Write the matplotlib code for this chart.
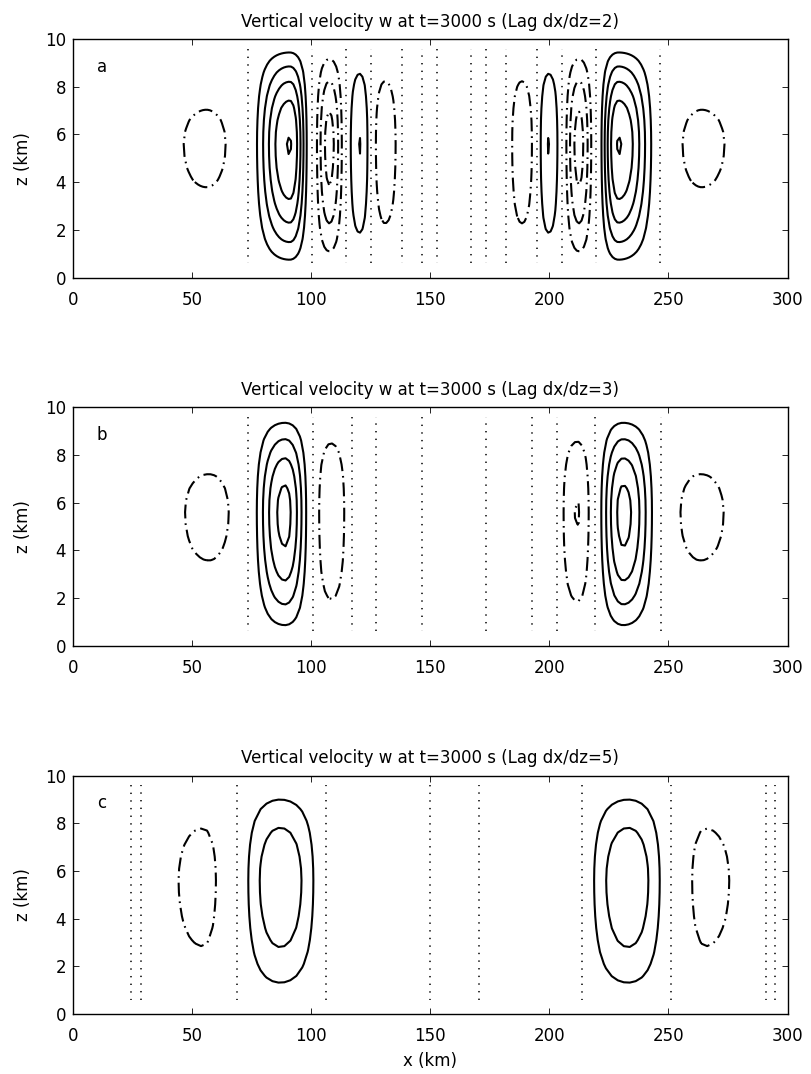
import numpy as np
import matplotlib
matplotlib.use("Agg")
import matplotlib.pyplot as plt

plt.rcParams['font.family'] = ['DejaVu Sans']
plt.rcParams['lines.scale_dashes'] = False

# ---------------- data ----------------
titles = ["Vertical velocity w at t=3000 s (Lag dx/dz=2)",
          "Vertical velocity w at t=3000 s (Lag dx/dz=3)",
          "Vertical velocity w at t=3000 s (Lag dx/dz=5)"]
panel_labels = ["a", "b", "c"]
dz = 0.5
dx_ratio = [2, 3, 5]

# horizontal structure: lobe boundaries (km), signed amplitude (contour units),
# peak position (km) and peakedness of each lobe
breaks_a = [-10, 36, 73, 100.3, 115, 125.1, 137.8, 146.5, 152.8, 167.2, 173.5, 182.2, 194.9, 205, 219.7, 247, 284, 310]
amps_a   = [-0.05, -1.15, 5.05, -3.4, 2.02, -1.7, 0.3, -0.3, 0.3, -0.3, 0.3, -1.7, 2.02, -3.4, 5.05, -1.15, -0.05]
peaks_a  = [13, 56, 91, 107.6, 120.3, 131, 142, 149.6, 160, 170.3, 178, 188.5, 199.7, 212.4, 229, 264, 297]
power_a  = [1, 0.45, 1.6, 1.5, 0.9, 0.8, 1, 1, 1, 1, 1, 0.8, 0.9, 1.5, 1.6, 0.45, 1]

breaks_b = [-10, 38, 73, 101, 116.5, 127, 146.5, 173.5, 193, 203.5, 218.6, 247.3, 282, 310]
amps_b   = [-0.05, -1.19, 4.36, -1.95, 0.3, -0.3, 0.3, -0.3, 0.3, -2.04, 4.36, -1.19, -0.05]
peaks_b  = [14, 57, 89, 108.3, 121.7, 136.7, 160, 183.2, 198.2, 211.7, 231, 263.5, 296]
power_b  = [1, 0.45, 1.6, 0.9, 1, 1, 1, 1, 1, 0.9, 1.6, 0.45, 1]

breaks_c = [-10, 25.6, 28.4, 68.8, 105.9, 150, 170.3, 213.7, 251.1, 291.2, 294, 310]
amps_c   = [-0.05, 0.05, -1.41, 2.85, -0.4, 0.3, -0.4, 2.85, -1.41, 0.05, -0.05]
peaks_c  = [8, 27, 54.5, 87, 128, 160, 192, 233, 265.5, 292.6, 302]
power_c  = [1, 1, 1.7, 1.15, 1, 1, 1, 1.15, 1.7, 1, 1]

# vertical structure: bottom zero, level of maximum, top zero (km)
z_bottom, z_peak, z_top = 0.04, 5.6, 10.0
z_first, z_last = 0.6, 9.6

neg_levels = [-4, -3, -2, -1]
zero_levels = [0]
pos_levels = [1, 2, 3, 4, 5]

panels = [(breaks_a, amps_a, peaks_a, power_a),
          (breaks_b, amps_b, peaks_b, power_b),
          (breaks_c, amps_c, peaks_c, power_c)]


def horizontal(x, breaks, amps, peaks, powers):
    f = np.zeros_like(x)
    for a, b, A, c, q in zip(breaks[:-1], breaks[1:], amps, peaks, powers):
        m = (x >= a) & (x < b)
        xm = x[m]
        t = np.where(xm < c, 0.5 * (xm - a) / (c - a), 0.5 + 0.5 * (xm - c) / (b - c))
        f[m] = A * np.sin(np.pi * t) ** q
    return f


def vertical(z):
    t = np.where(z < z_peak, 0.5 * (z - z_bottom) / (z_peak - z_bottom),
                 0.5 + 0.5 * (z - z_peak) / (z_top - z_peak))
    return np.sin(np.pi * t)


fig = plt.figure(figsize=(8.12, 10.74), dpi=100)
bottoms = [0.7416, 0.3988, 0.0559]
for i, (br, am, pk, pw) in enumerate(panels):
    ax = fig.add_axes([0.0899, bottoms[i], 0.880, 0.222])
    ddx = dx_ratio[i] * dz
    x = np.arange(ddx / 2, 300, ddx)
    z = np.arange(z_first, z_last + 1e-6, dz)
    X, Z = np.meshgrid(x, z)
    W = horizontal(X, br, am, pk, pw) * vertical(Z)

    ax.contour(X, Z, W, levels=neg_levels, colors='k', linewidths=1.5,
               linestyles=[(0, (10, 3.5, 1.2, 3.5))] * len(neg_levels))
    ax.contour(X, Z, W, levels=zero_levels, colors='k', linewidths=1.1,
               linestyles=[(0, (1, 4.5))])
    ax.contour(X, Z, W, levels=pos_levels, colors='k', linewidths=1.5,
               linestyles=['solid'] * len(pos_levels))

    ax.set_xlim(0, 300)
    ax.set_ylim(0, 10)
    ax.set_xticks(np.arange(0, 301, 50))
    ax.set_yticks(np.arange(0, 11, 2))
    ax.tick_params(direction='in', top=True, right=True, length=4.5, width=0.6,
                   labelsize=12)
    ax.tick_params(axis='y', pad=5.0)
    ax.tick_params(axis='x', pad=9.5)
    for s in ax.spines.values():
        s.set_linewidth(1.0)
    ax.set_title(titles[i], fontsize=12, pad=9)
    ax.set_ylabel("z (km)", fontsize=12, labelpad=9)
    ax.text(10, 8.63, panel_labels[i], fontsize=12, ha='left', va='baseline')
    if i == 2:
        ax.set_xlabel("x (km)", fontsize=12, labelpad=5)

fig.savefig("out.png", dpi=100)
